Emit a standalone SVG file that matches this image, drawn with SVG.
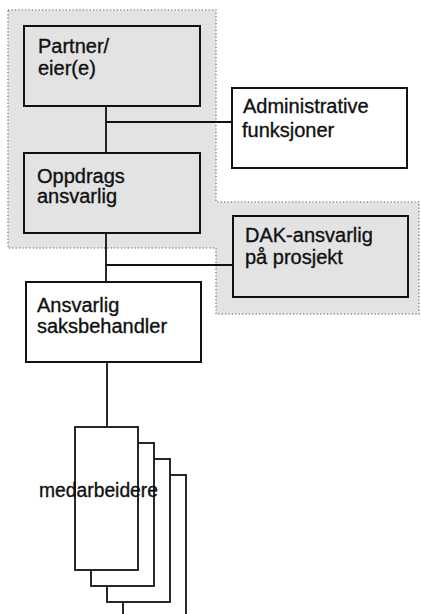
<svg xmlns="http://www.w3.org/2000/svg" width="421" height="614" viewBox="0 0 421 614">
  <style>
    .zone { fill: #e3e3e3; stroke: #8c8c8c; stroke-width: 1.6; stroke-dasharray: 1.2 2.2; }
    .box { stroke: #111; stroke-width: 2; }
    .shaded { fill: #e3e3e3; }
    .plain { fill: #ffffff; }
    .card { fill: #ffffff; stroke: #111; stroke-width: 1.8; }
    .wire { fill: none; stroke: #111; stroke-width: 1.8; }
    text { font-family: "Liberation Sans", Arial, sans-serif; font-size: 20px; fill: #111; stroke: #111; stroke-width: 0.35; }
  </style>

  <rect width="421" height="614" fill="#ffffff"/>

  <!-- shaded management zone -->
  <path class="zone" d="M8,10 H216 V202 H419 V314 H216 V248 H8 Z"/>

  <!-- connectors -->
  <g id="connectors">
    <path class="wire" d="M106,106 V153"/>
    <path class="wire" d="M106,122 H232"/>
    <path class="wire" d="M106,233 V282"/>
    <path class="wire" d="M106,265 H233"/>
    <path class="wire" d="M107,362 V427"/>
  </g>

  <g id="partner">
    <rect class="box shaded" x="24" y="26" width="176" height="80"/>
    <text x="38" y="53">Partner/</text>
    <text x="38" y="75">eier(e)</text>
  </g>

  <g id="oppdragsansvarlig">
    <rect class="box shaded" x="24" y="153" width="176" height="80"/>
    <text x="37" y="183">Oppdrags</text>
    <text x="37" y="203">ansvarlig</text>
  </g>

  <g id="administrative">
    <rect class="box plain" x="232" y="88" width="175" height="80"/>
    <text x="243" y="113">Administrative</text>
    <text x="242" y="137">funksjoner</text>
  </g>

  <g id="dak">
    <rect class="box shaded" x="233" y="216" width="175" height="81"/>
    <text x="245" y="242">DAK-ansvarlig</text>
    <text x="245" y="264">på prosjekt</text>
  </g>

  <g id="saksbehandler">
    <rect class="box plain" x="26" y="282" width="175" height="80"/>
    <text x="37" y="312">Ansvarlig</text>
    <text x="37" y="333">saksbehandler</text>
  </g>

  <g id="medarbeidere">
    <rect class="card" x="123" y="475" width="63" height="150"/>
    <rect class="card" x="107" y="459" width="63" height="143"/>
    <rect class="card" x="91" y="443" width="63" height="143"/>
    <rect class="card" x="75" y="427" width="63" height="143"/>
    <text x="39" y="497" textLength="119" lengthAdjust="spacingAndGlyphs">medarbeidere</text>
  </g>
</svg>
